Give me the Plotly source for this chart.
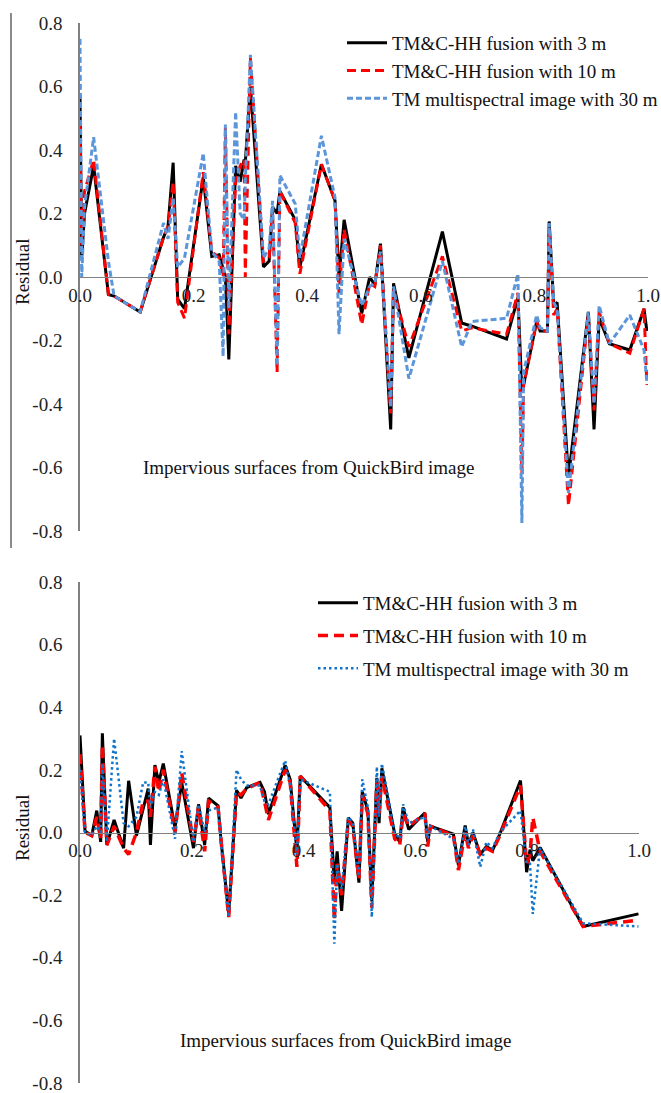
import plotly.graph_objects as go

# ---------------- data: top panel ----------------
x_top = [0.000, 0.003, 0.008, 0.024, 0.050, 0.060, 0.106, 0.147, 0.155, 0.164,
         0.172, 0.184, 0.217, 0.232, 0.245, 0.252, 0.256, 0.262, 0.274, 0.282,
         0.289, 0.291, 0.300, 0.323, 0.333, 0.339, 0.347, 0.352, 0.379, 0.387,
         0.425, 0.449, 0.456, 0.465, 0.496, 0.510, 0.519, 0.529, 0.547, 0.552,
         0.579, 0.638, 0.672, 0.690, 0.751, 0.771, 0.778, 0.781, 0.804, 0.810,
         0.823, 0.826, 0.834, 0.840, 0.860, 0.895, 0.905, 0.914, 0.932, 0.968,
         0.993, 0.998]
k_top = [0.57, 0.06, 0.20, 0.35, -0.055, -0.06, -0.11, 0.125, 0.16, 0.36,
         -0.07, -0.10, 0.315, 0.065, 0.07, 0.02, 0.00, -0.26, 0.35, 0.30,
         0.37, 0.36, 0.60, 0.032, 0.05, 0.22, 0.20, 0.27, 0.18, 0.03,
         0.355, 0.24, 0.00, 0.18, -0.115, 0.00, -0.025, 0.105, -0.48, -0.02,
         -0.255, 0.143, -0.145, -0.155, -0.195, -0.065, -0.36, -0.34, -0.14, -0.17,
         -0.17, 0.175, -0.09, -0.08, -0.63, -0.11, -0.48, -0.13, -0.21, -0.23,
         -0.10, -0.17]
r_top = [0.48, 0.10, 0.27, 0.37, -0.055, -0.06, -0.11, 0.125, 0.16, 0.30,
         -0.08, -0.13, 0.33, 0.08, 0.06, 0.00, 0.47, -0.18, 0.30, 0.35,
         0.37, 0.00, 0.69, 0.05, 0.06, 0.21, -0.30, 0.27, 0.17, 0.01,
         0.355, 0.24, -0.05, 0.15, -0.15, -0.02, -0.03, 0.10, -0.43, -0.04,
         -0.22, 0.065, -0.17, -0.16, -0.18, -0.05, -0.62, -0.34, -0.14, -0.17,
         -0.17, 0.16, -0.12, -0.10, -0.72, -0.12, -0.42, -0.11, -0.21, -0.24,
         -0.10, -0.34]
b_top = [0.75, 0.00, 0.22, 0.44, 0.05, -0.06, -0.11, 0.17, 0.12, 0.25,
         0.03, 0.06, 0.39, 0.08, 0.05, -0.25, 0.48, -0.10, 0.52, 0.20,
         0.18, 0.30, 0.70, 0.06, 0.09, 0.24, -0.28, 0.32, 0.23, 0.06,
         0.445, 0.25, -0.18, 0.12, -0.09, -0.03, -0.02, 0.08, -0.41, -0.03,
         -0.32, 0.05, -0.22, -0.14, -0.13, 0.01, -0.775, -0.30, -0.12, -0.16,
         -0.17, 0.17, -0.08, -0.10, -0.68, -0.11, -0.40, -0.09, -0.21, -0.12,
         -0.23, -0.33]

# ---------------- data: bottom panel ----------------
x_bot = [0.000, 0.009, 0.021, 0.030, 0.037, 0.040, 0.048, 0.061, 0.078, 0.087,
         0.101, 0.113, 0.122, 0.126, 0.134, 0.141, 0.149, 0.170, 0.182, 0.203,
         0.212, 0.223, 0.230, 0.247, 0.252, 0.266, 0.280, 0.288, 0.298, 0.322,
         0.330, 0.337, 0.367, 0.376, 0.388, 0.394, 0.447, 0.455, 0.460, 0.468,
         0.480, 0.488, 0.499, 0.505, 0.515, 0.522, 0.531, 0.535, 0.540, 0.563,
         0.572, 0.578, 0.588, 0.617, 0.622, 0.627, 0.668, 0.677, 0.689, 0.695,
         0.703, 0.716, 0.727, 0.738, 0.751, 0.788, 0.799, 0.805, 0.810, 0.823,
         0.900, 0.999]
k_bot = [0.31, 0.005, -0.01, 0.07, -0.03, 0.317, -0.04, 0.04, -0.05, 0.165,
         -0.01, 0.08, 0.14, -0.04, 0.215, 0.16, 0.22, 0.015, 0.16, -0.05,
         0.09, -0.04, 0.11, 0.085, -0.02, -0.26, 0.135, 0.11, 0.143, 0.16,
         0.13, 0.058, 0.215, 0.17, -0.06, 0.18, 0.08, -0.16, -0.06, -0.25,
         0.047, 0.03, -0.16, 0.13, 0.07, -0.22, 0.175, 0.03, 0.205, -0.005,
         -0.03, 0.08, 0.01, 0.063, -0.03, 0.02, -0.005, -0.105, 0.022, -0.04,
         0.00, -0.07, -0.045, -0.057, -0.005, 0.166, -0.127, -0.055, -0.09, -0.048,
         -0.30, -0.26]
r_bot = [0.25, 0.00, -0.01, 0.05, -0.02, 0.28, -0.04, 0.02, -0.05, -0.07,
         0.00, 0.10, 0.10, 0.05, 0.21, 0.13, 0.20, 0.00, 0.19, -0.03,
         0.08, -0.06, 0.10, 0.08, -0.02, -0.27, 0.13, 0.12, 0.14, 0.16,
         0.10, 0.04, 0.20, 0.16, -0.11, 0.18, 0.07, -0.28, -0.10, -0.20,
         0.04, 0.02, -0.15, 0.12, 0.06, -0.24, 0.16, 0.06, 0.18, -0.02,
         -0.04, 0.06, 0.02, 0.06, -0.045, 0.02, -0.01, -0.12, 0.00, -0.05,
         -0.01, -0.07, -0.05, -0.06, -0.01, 0.15, -0.10, -0.07, 0.048, -0.06,
         -0.30, -0.28]
b_bot = [0.20, 0.00, -0.01, 0.02, 0.00, 0.22, -0.03, 0.30, 0.03, 0.02,
         0.05, 0.16, 0.16, 0.08, 0.13, 0.12, 0.17, -0.02, 0.26, -0.03,
         0.09, 0.00, 0.07, 0.08, -0.03, -0.27, 0.20, 0.17, 0.15, 0.15,
         0.10, 0.09, 0.23, 0.15, -0.07, 0.17, 0.13, -0.355, -0.10, -0.18,
         0.05, 0.03, -0.14, 0.17, 0.08, -0.27, 0.21, 0.05, 0.22, 0.00,
         -0.02, 0.09, 0.03, 0.05, -0.02, 0.02, -0.02, -0.10, 0.02, -0.04,
         0.01, -0.11, -0.03, -0.05, 0.00, 0.07, -0.10, -0.10, -0.26, -0.05,
         -0.29, -0.30]

series_names = ["TM&C-HH fusion with 3 m",
                "TM&C-HH fusion with 10 m",
                "TM multispectral image with 30 m"]
x_ticks = [0.0, 0.2, 0.4, 0.6, 0.8, 1.0]
x_ticktext = ["0.0", "0.2", "0.4", "0.6", "0.8", "1.0"]
y_ticks = [-0.8, -0.6, -0.4, -0.2, 0.0, 0.2, 0.4, 0.6, 0.8]
y_ticktext = ["-0.8", "-0.6", "-0.4", "-0.2", "0.0", "0.2", "0.4", "0.6", "0.8"]
x_title = "Impervious surfaces from QuickBird image"
y_title = "Residual"

W, H = 661, 1093
FONT = "Liberation Serif"
AXC = "#808080"


def px(v):
    return v / W


def py(v):
    return 1 - v / H


fig = go.Figure()

# top panel traces
fig.add_trace(go.Scatter(x=x_top, y=k_top, mode="lines", name=series_names[0],
                         line=dict(color="#000000", width=3),
                         xaxis="x", yaxis="y", legend="legend", legendgroup="t1"))
fig.add_trace(go.Scatter(x=x_top, y=r_top, mode="lines", name=series_names[1],
                         line=dict(color="#FF0000", width=3, dash="9px,5px"),
                         xaxis="x", yaxis="y", legend="legend", legendgroup="t2"))
fig.add_trace(go.Scatter(x=x_top, y=b_top, mode="lines", name=series_names[2],
                         line=dict(color="#5B95DA", width=3, dash="6px,3px"),
                         xaxis="x", yaxis="y", legend="legend", legendgroup="t3"))

# bottom panel traces
fig.add_trace(go.Scatter(x=x_bot, y=k_bot, mode="lines", name=series_names[0],
                         line=dict(color="#000000", width=3),
                         xaxis="x2", yaxis="y2", legend="legend2", legendgroup="b1"))
fig.add_trace(go.Scatter(x=x_bot, y=r_bot, mode="lines", name=series_names[1],
                         line=dict(color="#FF0000", width=3.5, dash="10px,6px"),
                         xaxis="x2", yaxis="y2", legend="legend2", legendgroup="b2"))
fig.add_trace(go.Scatter(x=x_bot, y=b_bot, mode="lines", name=series_names[2],
                         line=dict(color="#0E74CC", width=2.5, dash="2.5px,3px"),
                         xaxis="x2", yaxis="y2", legend="legend2", legendgroup="b3"))

tickfont = dict(family=FONT, size=19, color="#222222")

top_dom_y = [py(531), py(23)]
bot_dom_y = [py(1083), py(582)]

xcommon = dict(range=[0, 1], showline=True, linecolor=AXC, linewidth=1.3,
               showgrid=False, zeroline=False, ticks="", tickvals=x_ticks,
               ticktext=x_ticktext, tickfont=tickfont, anchor="free",
               ticklabelstandoff=1, automargin=False, ticklabeloverflow="allow")
ycommon = dict(range=[-0.8, 0.8], showline=True, linecolor=AXC, linewidth=1.6,
               showgrid=False, zeroline=False, ticks="", tickvals=y_ticks,
               ticktext=y_ticktext, tickfont=tickfont, ticklabelstandoff=12,
               automargin=False, ticklabeloverflow="allow")

fig.update_layout(
    width=W, height=H,
    margin=dict(l=0, r=0, t=0, b=0, autoexpand=False),
    paper_bgcolor="white", plot_bgcolor="white",
    xaxis=dict(domain=[px(80), px(648)], position=(top_dom_y[0] + top_dom_y[1]) / 2,
               **xcommon),
    yaxis=dict(domain=top_dom_y, anchor="x", **ycommon),
    xaxis2=dict(domain=[px(80), px(639)], position=(bot_dom_y[0] + bot_dom_y[1]) / 2,
                **xcommon),
    yaxis2=dict(domain=bot_dom_y, anchor="x2", **ycommon),
    legend=dict(x=px(342), y=py(24), xanchor="left", yanchor="top",
                bgcolor="rgba(0,0,0,0)", font=dict(family=FONT, size=19, color="#111111"),
                tracegroupgap=0, traceorder="grouped", itemwidth=40),
    legend2=dict(x=px(313), y=py(584), xanchor="left", yanchor="top",
                 bgcolor="rgba(0,0,0,0)", font=dict(family=FONT, size=19, color="#111111"),
                 tracegroupgap=5, traceorder="grouped", itemwidth=40),
    showlegend=True,
)

annots = [
    dict(text=x_title, x=px(308), y=py(467)),
    dict(text=x_title, x=px(345), y=py(1040)),
    dict(text=y_title, x=px(22), y=py(272), textangle=-90),
    dict(text=y_title, x=px(22), y=py(828), textangle=-90),
]
for a in annots:
    fig.add_annotation(xref="paper", yref="paper", showarrow=False,
                       xanchor="center", yanchor="middle",
                       font=dict(family=FONT, size=19, color="#111111"), **a)

# thin frame line at the far left of the top panel
fig.add_shape(type="line", xref="paper", yref="paper",
              x0=px(11), x1=px(11), y0=py(548), y1=py(13),
              line=dict(color="#8a8a8a", width=2))

# remove the browser's default 8 px page margin so the figure fills the window
fig.write_html("out.html",
               config={"displayModeBar": False},
               post_script="document.body.style.margin='0';"
                           "document.body.style.overflow='hidden';")
